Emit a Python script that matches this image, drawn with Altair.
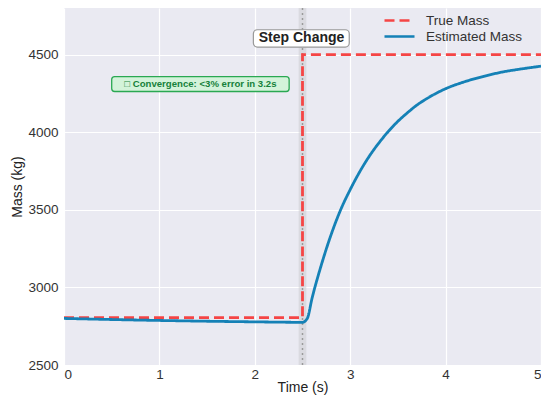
import altair as alt
import pandas as pd

# Estimated mass
est_time = [0.0, 0.5, 1.0, 1.5, 2.0, 2.5, 2.55, 2.6, 2.7, 2.8, 2.9, 3.0, 3.1, 3.2, 3.3, 3.4,
            3.5, 3.6, 3.7, 3.8, 3.9, 4.0, 4.2, 4.4, 4.6, 4.8, 5.0]
est_mass = [2800, 2793, 2787, 2782, 2778, 2775, 2800, 2930, 3150, 3340, 3500, 3630, 3745, 3845, 3930, 4005,
            4070, 4125, 4175, 4215, 4250, 4280, 4325, 4360, 4388, 4408, 4425]

# True mass (step)
true_time = [0.0, 2.5, 2.5, 5.0]
true_mass = [2805, 2805, 4500, 4500]

series_names = ["True Mass", "Estimated Mass"]
series_colors = ["#F54545", "#1581B6"]

step_time = 2.5
step_label = "Step Change"
conv_label = "\u25a1 Convergence: <3% error in 3.2s"

rows = []
for i, (t, m) in enumerate(zip(true_time, true_mass)):
    rows.append({"t": t, "m": m, "s": "True Mass", "o": i})
for i, (t, m) in enumerate(zip(est_time, est_mass)):
    rows.append({"t": t, "m": m, "s": "Estimated Mass", "o": i})
df = pd.DataFrame(rows)

FONT = "Liberation Sans"
xs = alt.Scale(domain=[0, 5], nice=False, zero=False)
ys = alt.Scale(domain=[2500, 4800], nice=False, zero=False)

band = alt.Chart(pd.DataFrame({"a": [step_time - 0.04], "b": [step_time + 0.04]})).mark_rect(
    color="#c9cace", opacity=0.5
).encode(x=alt.X("a:Q", scale=xs), x2="b:Q", y=alt.value(0), y2=alt.value(357))

vline = alt.Chart(pd.DataFrame({"a": [step_time]})).mark_rule(
    color="#9a9a9a", strokeDash=[2, 3], strokeWidth=1.5
).encode(x=alt.X("a:Q", scale=xs))

leg = dict(title=None, orient="none", legendX=319, legendY=5,
           symbolType="stroke", symbolSize=900, clipHeight=15,
           symbolStrokeWidth=2.6, labelFontSize=13.5,
           labelFont=FONT, labelColor="#333333",
           rowPadding=1, labelOffset=10)

lines = alt.Chart(df).mark_line(strokeWidth=2.8, interpolate="monotone").encode(
    x=alt.X("t:Q", scale=xs, title="Time (s)",
            axis=alt.Axis(values=[0, 1, 2, 3, 4, 5], format="d")),
    y=alt.Y("m:Q", scale=ys, title="Mass (kg)",
            axis=alt.Axis(values=[2500, 3000, 3500, 4000, 4500], format="d")),
    order="o:Q",
    detail="s:N",
    color=alt.Color("s:N", scale=alt.Scale(domain=series_names, range=series_colors),
                    legend=alt.Legend(**leg)),
    strokeDash=alt.StrokeDash("s:N", scale=alt.Scale(domain=series_names, range=[[10, 5], [1, 0]]),
                              legend=alt.Legend(**leg)),
)

step_box = alt.Chart(pd.DataFrame({"a": [1.985], "b": [2.99], "c": [4548], "d": [4660]})).mark_rect(
    fill="white", stroke="#999999", strokeWidth=1.2, cornerRadius=4
).encode(x=alt.X("a:Q", scale=xs), x2="b:Q", y=alt.Y("c:Q", scale=ys), y2="d:Q")

step_text = alt.Chart(pd.DataFrame({"a": [2.49], "c": [4604], "l": [step_label]})).mark_text(
    font=FONT, fontSize=14, fontWeight="bold", color="#222222"
).encode(x=alt.X("a:Q", scale=xs), y=alt.Y("c:Q", scale=ys), text="l:N")

conv_box = alt.Chart(pd.DataFrame({"a": [0.50], "b": [2.36], "c": [4262], "d": [4358]})).mark_rect(
    fill="#d3f3da", stroke="#2aa852", strokeWidth=1.3, cornerRadius=3
).encode(x=alt.X("a:Q", scale=xs), x2="b:Q", y=alt.Y("c:Q", scale=ys), y2="d:Q")

conv_text = alt.Chart(pd.DataFrame({"a": [1.43], "c": [4310], "l": [conv_label]})).mark_text(
    font=FONT, fontSize=9.6, fontWeight="bold", color="#16813a"
).encode(x=alt.X("a:Q", scale=xs), y=alt.Y("c:Q", scale=ys), text="l:N")

chart = alt.layer(band, vline, lines, step_box, step_text, conv_box, conv_text).properties(
    width=477, height=357,
    autosize=alt.AutoSizeParams(type="none"),
    padding={"left": 56, "top": 0, "right": 0, "bottom": 33},
).configure_view(
    fill="#EAEAF2", stroke=None
).configure_axis(
    domain=False, ticks=False, grid=True, gridColor="white", gridWidth=1.2,
    labelFont=FONT, labelFontSize=13.5, labelColor="#333333",
    titleFont=FONT, titleFontSize=14, titleFontWeight="normal", titleColor="#222222",
).configure_axisX(
    labelPadding=2, titlePadding=0
).configure_axisY(
    labelPadding=6, titlePadding=3
)

chart.save("out.html", embed_options={"renderer": "svg", "actions": False})
